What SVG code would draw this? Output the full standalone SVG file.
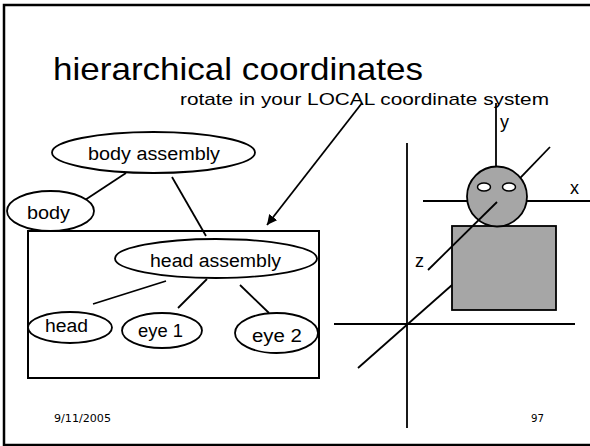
<svg xmlns="http://www.w3.org/2000/svg" width="590" height="446" viewBox="0 0 590 446">
  <defs>
    <style>
      .hand { font-family: "Liberation Sans", "DejaVu Sans", sans-serif; fill: #000; }
      .foot { font-family: "DejaVu Sans", "Liberation Sans", sans-serif; font-size: 11px; fill: #000; }
      .node ellipse { fill: #fff; stroke: #000; stroke-width: 1.8; }
      .node text { font-family: "Liberation Sans", "DejaVu Sans", sans-serif; font-size: 18px; fill: #000; text-anchor: start; }
      .edge { stroke: #000; stroke-width: 1.8; fill: none; }
      .axis { stroke: #000; stroke-width: 1.8; fill: none; }
      .solid { fill: #a6a6a6; stroke: #000; stroke-width: 1.8; }
    </style>
    <marker id="arrowhead" viewBox="0 0 10 10" refX="10" refY="5" markerWidth="10" markerHeight="10" markerUnits="userSpaceOnUse" orient="auto">
      <path d="M0,0 L10,5 L0,10 z" fill="#000"/>
    </marker>
  </defs>

  <!-- page frame -->
  <rect x="4" y="5" width="600" height="440" fill="#fff" stroke="#000" stroke-width="2.5"/>

  <!-- headings -->
  <text class="hand" x="53" y="80" font-size="32" textLength="370" lengthAdjust="spacingAndGlyphs">hierarchical coordinates</text>
  <text class="hand" x="180" y="105" font-size="17" textLength="369" lengthAdjust="spacingAndGlyphs">rotate in your LOCAL coordinate system</text>

  <!-- enclosing box for the head sub-tree -->
  <rect id="head-group" x="28" y="231" width="291" height="147" fill="none" stroke="#000" stroke-width="2"/>

  <!-- connectors -->
  <g id="connectors">
    <line class="edge" x1="126" y1="173" x2="85" y2="200"/>
    <line class="edge" x1="172" y1="177" x2="206" y2="236"/>
    <line class="edge" x1="166" y1="281" x2="93" y2="304"/>
    <line class="edge" x1="207" y1="279" x2="178" y2="308"/>
    <line class="edge" x1="240" y1="285" x2="269" y2="313"/>
    <line class="edge" x1="362" y1="103" x2="267" y2="225" marker-end="url(#arrowhead)"/>
  </g>

  <!-- tree nodes -->
  <g id="body-assembly" class="node">
    <ellipse cx="153.5" cy="152.5" rx="101.5" ry="20.5"/>
    <text x="88" y="160" textLength="132" lengthAdjust="spacingAndGlyphs">body assembly</text>
  </g>
  <g id="body" class="node">
    <ellipse cx="50.5" cy="211" rx="43.5" ry="20"/>
    <text x="27" y="219" textLength="43" lengthAdjust="spacingAndGlyphs">body</text>
  </g>
  <g id="head-assembly" class="node">
    <ellipse cx="216" cy="258.5" rx="101" ry="19.5"/>
    <text x="150" y="267" textLength="131" lengthAdjust="spacingAndGlyphs">head assembly</text>
  </g>
  <g id="head" class="node">
    <ellipse cx="70" cy="327.5" rx="42" ry="15.5"/>
    <text x="45" y="332" textLength="43" lengthAdjust="spacingAndGlyphs">head</text>
  </g>
  <g id="eye-1" class="node">
    <ellipse cx="162" cy="330.5" rx="40" ry="17.5"/>
    <text x="138" y="337" textLength="45" lengthAdjust="spacingAndGlyphs">eye 1</text>
  </g>
  <g id="eye-2" class="node">
    <ellipse cx="276.5" cy="333" rx="41.5" ry="20"/>
    <text x="252" y="342" textLength="50" lengthAdjust="spacingAndGlyphs">eye 2</text>
  </g>

  <!-- world axes -->
  <g id="world-axes">
    <line class="axis" x1="407" y1="143" x2="407" y2="428"/>
    <line class="axis" x1="334" y1="324" x2="575" y2="324"/>
    <line class="axis" x1="358" y1="368" x2="452" y2="285"/>
  </g>

  <!-- figure with its local axes -->
  <g id="figure">
    <line class="axis" x1="423" y1="201" x2="590" y2="201"/>
    <line class="axis" x1="496" y1="103" x2="496" y2="170"/>
    <line class="axis" x1="497" y1="202" x2="550" y2="147"/>
    <rect class="solid" x="452" y="226" width="104" height="84"/>
    <circle class="solid" cx="497" cy="196.5" r="30"/>
    <ellipse cx="484" cy="187" rx="6.5" ry="4" fill="#fff" stroke="#000" stroke-width="1.5"/>
    <ellipse cx="509" cy="187" rx="6.5" ry="4" fill="#fff" stroke="#000" stroke-width="1.5"/>
    <line class="axis" x1="428" y1="270" x2="497" y2="202"/>
    <text class="hand" x="500" y="128" font-size="18">y</text>
    <text class="hand" x="570" y="194" font-size="18">x</text>
    <text class="hand" x="415" y="267" font-size="18">z</text>
  </g>

  <!-- footer -->
  <text class="foot" x="54" y="422" textLength="57" lengthAdjust="spacingAndGlyphs">9/11/2005</text>
  <text class="foot" x="531" y="422" textLength="13" lengthAdjust="spacingAndGlyphs">97</text>
</svg>
